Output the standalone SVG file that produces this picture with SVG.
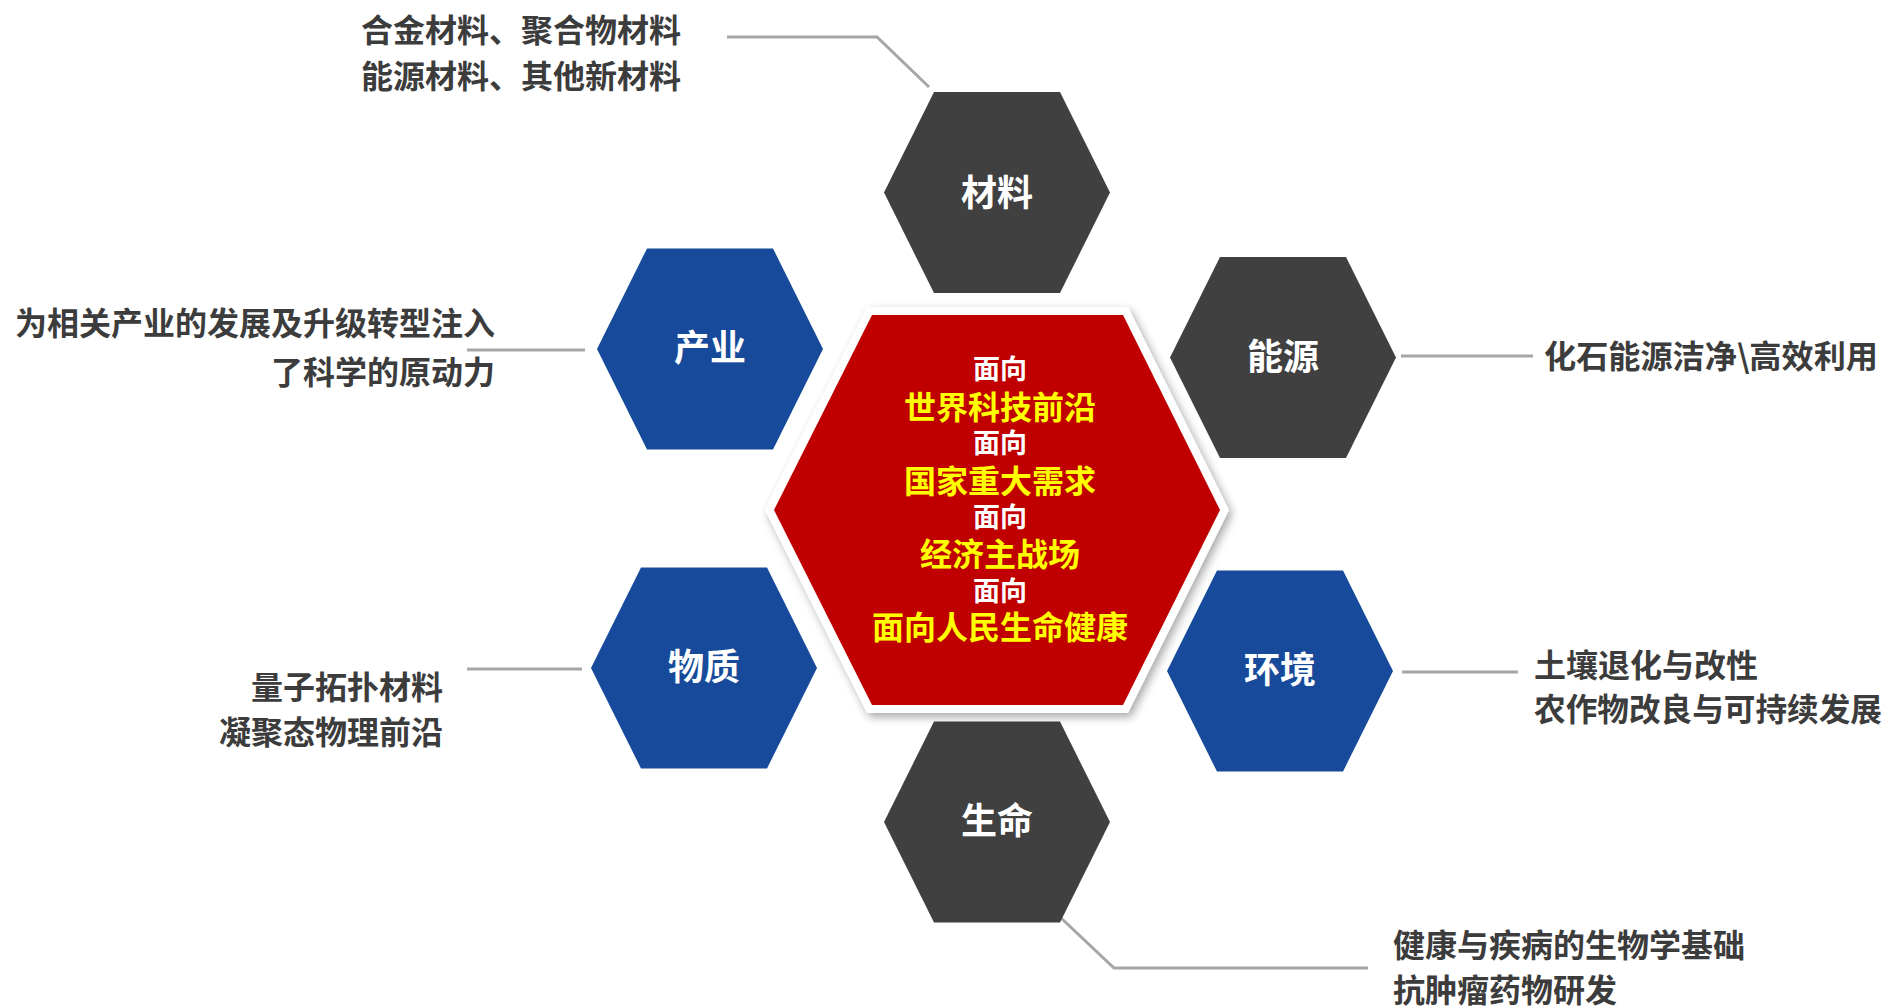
<svg xmlns="http://www.w3.org/2000/svg" xmlns:xlink="http://www.w3.org/1999/xlink" width="1891" height="1008" viewBox="0 0 1891 1008">
<style>
.dark{fill:#404040}
.blue{fill:#174a9a}
.lbl{font-family:"Noto Sans CJK SC","Noto Sans",sans-serif;font-weight:bold;font-size:36px;fill:#ffffff;text-anchor:middle;dominant-baseline:central}
.desc{font-family:"Noto Sans CJK SC","Noto Sans",sans-serif;font-weight:bold;font-size:32px;fill:#3c3c3c;dominant-baseline:central}
.cw{font-family:"Noto Sans CJK SC","Noto Sans",sans-serif;font-weight:bold;font-size:27px;fill:#ffffff;text-anchor:middle;dominant-baseline:central}
.cy{font-family:"Noto Sans CJK SC","Noto Sans",sans-serif;font-weight:bold;font-size:32px;fill:#ffff00;text-anchor:middle;dominant-baseline:central}
.conn{fill:none;stroke:#a6a6a6;stroke-width:3}
</style>
<defs>
<polygon id="hex" points="-63,-100.5 63,-100.5 113,0 63,100.5 -63,100.5 -113,0"/>
<filter id="sh" x="-10%" y="-10%" width="125%" height="125%">
<feGaussianBlur in="SourceAlpha" stdDeviation="5"/>
<feOffset dx="3" dy="4" result="b"/>
<feComponentTransfer><feFuncA type="linear" slope="0.35"/></feComponentTransfer>
<feMerge><feMergeNode/><feMergeNode in="SourceGraphic"/></feMerge>
</filter>
</defs>
<rect width="1891" height="1008" fill="#ffffff"/>

<g id="connectors">
<polyline class="conn" points="727,37 877,37 929,87"/>
<line class="conn" x1="467" y1="350" x2="585" y2="350"/>
<line class="conn" x1="1401" y1="356" x2="1533" y2="356"/>
<line class="conn" x1="467" y1="669" x2="582" y2="669"/>
<line class="conn" x1="1402" y1="672" x2="1518" y2="672"/>
<polyline class="conn" points="1060,917 1114,968 1368,968"/>
</g>

<g id="node-cailiao">
<use xlink:href="#hex" href="#hex" x="997" y="192.5" class="dark"/>
<text class="lbl" x="997" y="190">材料</text>
<text class="desc" x="361" y="28">合金材料、聚合物材料</text>
<text class="desc" x="361" y="74">能源材料、其他新材料</text>
</g>

<g id="node-chanye">
<use xlink:href="#hex" href="#hex" x="710" y="349" class="blue"/>
<text class="lbl" x="710" y="345">产业</text>
<text class="desc" x="495" y="321" text-anchor="end">为相关产业的发展及升级转型注入</text>
<text class="desc" x="495" y="370" text-anchor="end">了科学的原动力</text>
</g>

<g id="node-nengyuan">
<use xlink:href="#hex" href="#hex" x="1283" y="357.5" class="dark"/>
<text class="lbl" x="1283" y="354">能源</text>
<text class="desc" x="1544" y="354" textLength="334" lengthAdjust="spacingAndGlyphs">化石能源洁净\高效利用</text>
</g>

<g id="node-wuzhi">
<use xlink:href="#hex" href="#hex" x="704" y="668" class="blue"/>
<text class="lbl" x="704" y="664">物质</text>
<text class="desc" x="443" y="685" text-anchor="end">量子拓扑材料</text>
<text class="desc" x="443" y="730" text-anchor="end">凝聚态物理前沿</text>
</g>

<g id="node-huanjing">
<use xlink:href="#hex" href="#hex" x="1280" y="671" class="blue"/>
<text class="lbl" x="1280" y="667">环境</text>
<text class="desc" x="1534" y="663">土壤退化与改性</text>
<text class="desc" x="1534" y="707" textLength="348" lengthAdjust="spacingAndGlyphs">农作物改良与可持续发展</text>
</g>

<g id="node-shengming">
<use xlink:href="#hex" href="#hex" x="997" y="822" class="dark"/>
<text class="lbl" x="997" y="818">生命</text>
<text class="desc" x="1393" y="943">健康与疾病的生物学基础</text>
<text class="desc" x="1393" y="988">抗肿瘤药物研发</text>
</g>

<g id="node-center">
<polygon points="867,307 1128,307 1229,510 1128,713 867,713 765,510" fill="#ffffff" filter="url(#sh)"/>
<polygon points="872,315 1123,315 1220,510 1123,705 872,705 774,510" fill="#c00000"/>
<text class="cw" x="1000" y="367">面向</text>
<text class="cy" x="1000" y="405">世界科技前沿</text>
<text class="cw" x="1000" y="441">面向</text>
<text class="cy" x="1000" y="479">国家重大需求</text>
<text class="cw" x="1000" y="515">面向</text>
<text class="cy" x="1000" y="552">经济主战场</text>
<text class="cw" x="1000" y="589">面向</text>
<text class="cy" x="1000" y="625">面向人民生命健康</text>
</g>
</svg>
